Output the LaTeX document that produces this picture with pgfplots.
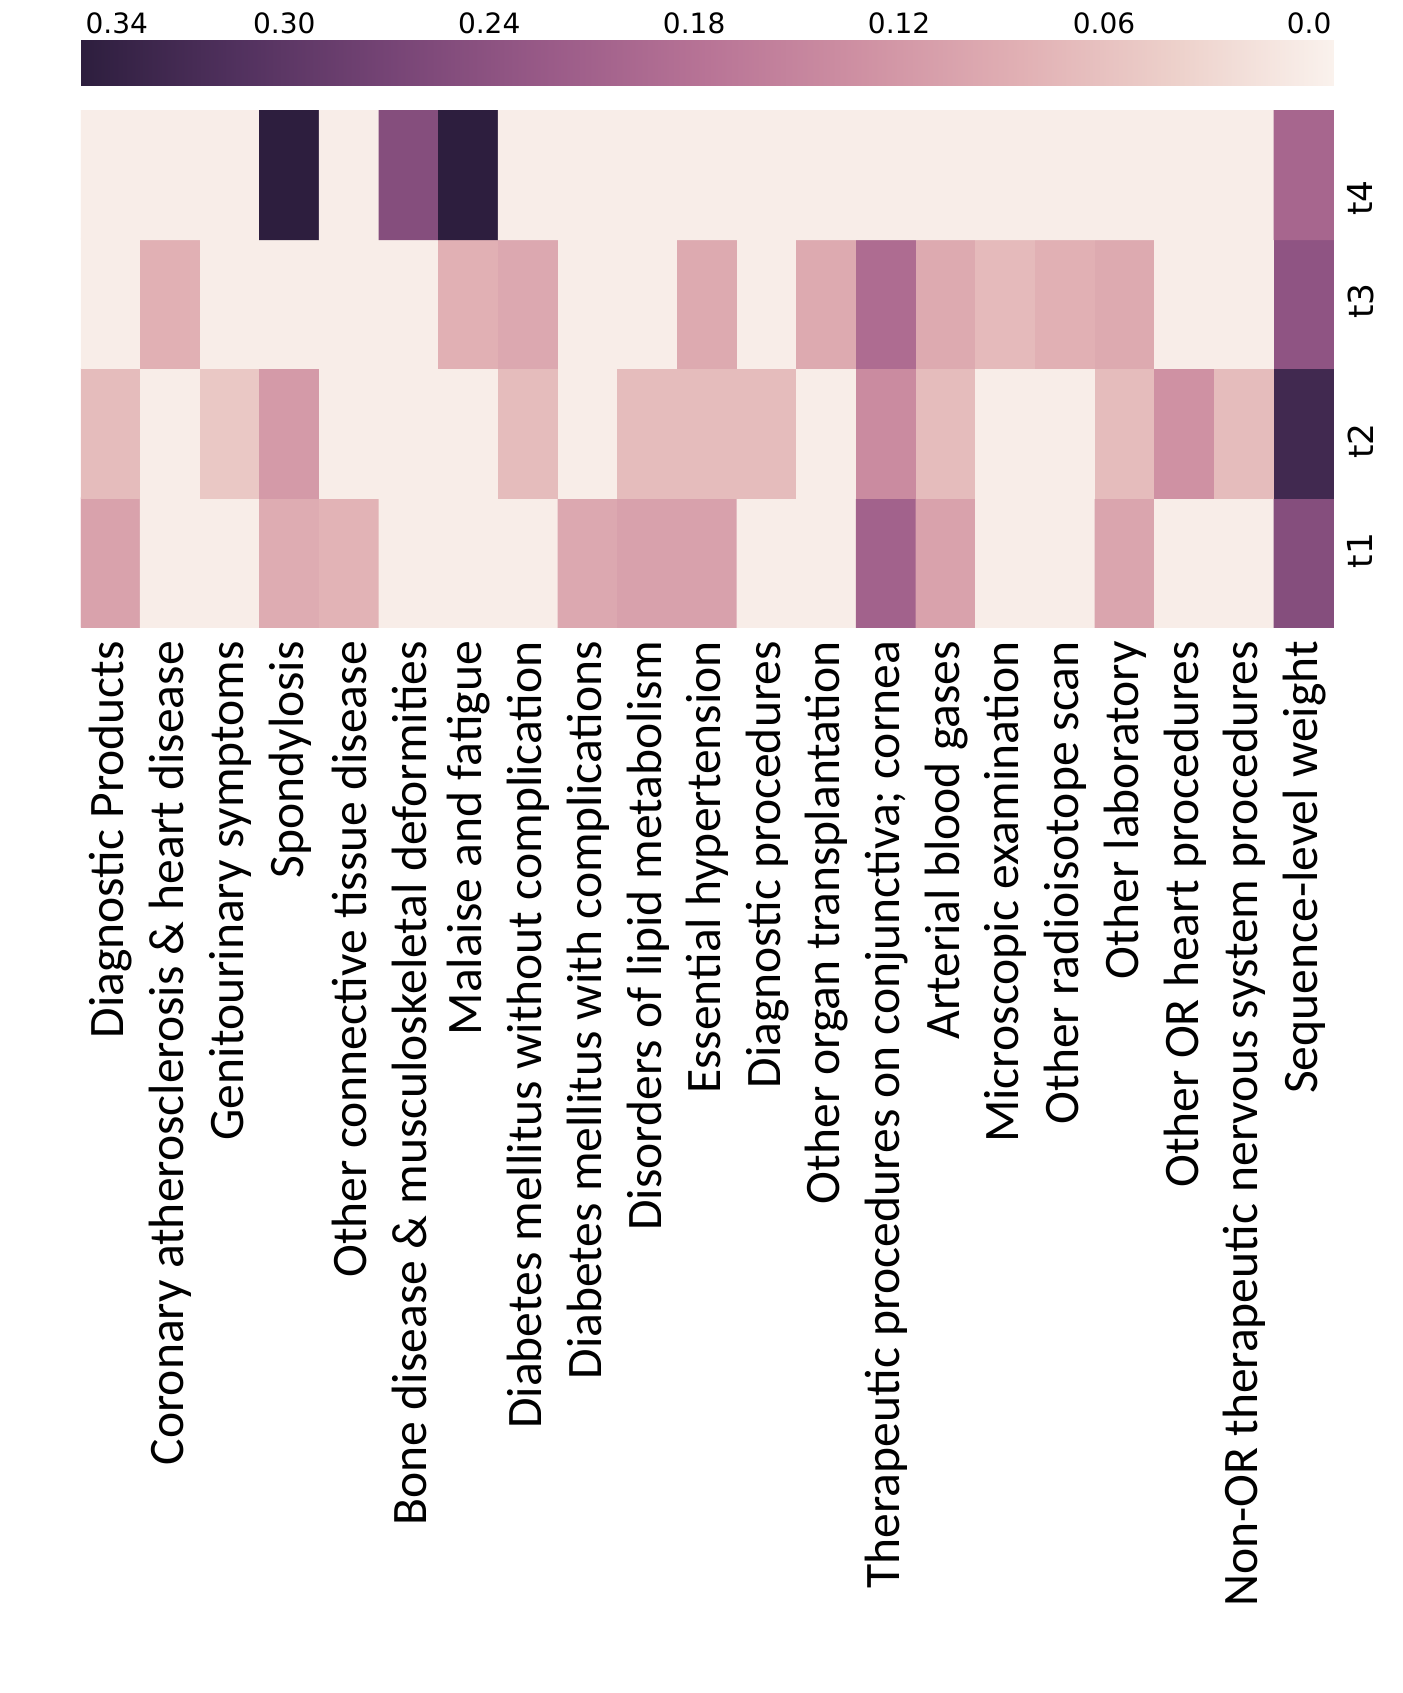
\documentclass[border=0pt]{standalone}
\usepackage{fontspec}
\setmainfont{Carlito}
\newfontfamily\dejavu{DejaVu Sans}
\usepackage{pgfplots}
\pgfplotsset{compat=1.18}

% seaborn-like cubehelix palette, light (low) to dark (high)
\pgfplotsset{
  colormap={chx}{rgb255(0cm)=(250,242,237); rgb255(1cm)=(237,209,203);
    rgb255(2cm)=(225,176,180); rgb255(3cm)=(207,145,163);
    rgb255(4cm)=(184,116,150); rgb255(5cm)=(154,91,136);
    rgb255(6cm)=(119,69,118); rgb255(7cm)=(81,49,94); rgb255(8cm)=(45,30,62)}
}

\begin{document}
\begin{tikzpicture}
\begin{axis}[
  name=main,
  scale only axis,
  width=313.25pt, height=129.25pt,
  xmin=-0.5, xmax=20.5, ymin=-0.5, ymax=3.5,
  xtick={0,...,20},
  xticklabels={{Diagnostic Products},{Coronary atherosclerosis \& heart disease},
    {Genitourinary symptoms},{Spondylosis},{Other connective tissue disease},
    {Bone disease \& musculoskeletal deformities},{Malaise and fatigue},
    {Diabetes mellitus without complication},{Diabetes mellitus with complications},
    {Disorders of lipid metabolism},{Essential hypertension},{Diagnostic procedures},
    {Other organ transplantation},{Therapeutic procedures on conjunctiva; cornea},
    {Arterial blood gases},{Microscopic examination},{Other radioisotope scan},
    {Other laboratory},{Other OR heart procedures},
    {Non-OR therapeutic nervous system procedures},{Sequence-level weight}},
  xticklabel style={rotate=90, anchor=east, font=\fontsize{12.4}{14}\selectfont},
  % row labels sit a little off the row centres in the original
  ytick={0.09,0.94,2.02,2.82},
  yticklabels={t1,t2,t3,t4},
  yticklabel pos=right,
  yticklabel style={rotate=90, anchor=north, inner sep=3.2pt,
    font=\dejavu\fontsize{8.6}{10}\selectfont},
  tick style={draw=none},
  axis line style={draw=none},
  colormap name=chx,
  point meta min=-0.0073, point meta max=0.3595,
  colorbar horizontal,
  colorbar shift/.style={yshift=6pt},
  colorbar style={
    at={(parent axis.north west)}, anchor=south west,
    scale only axis, width=313.25pt, height=11.25pt,
    x dir=reverse,
    xticklabel pos=upper,
    xtick={0,0.06,0.12,0.18,0.24,0.30,0.349},
    xticklabels={0.0,0.06,0.12,0.18,0.24,0.30,0.34},
    xticklabel style={font=\dejavu\fontsize{7}{8}\selectfont, inner sep=1.6pt},
    tick style={draw=none},
    axis line style={draw=none},
  },
]
\addplot[matrix plot*, mesh/cols=21, point meta=explicit]
  table[row sep=\\, meta=v] {
x y v\\
0 0 0.105\\ 1 0 0\\ 2 0 0\\ 3 0 0.091\\ 4 0 0.080\\ 5 0 0\\ 6 0 0\\
7 0 0\\ 8 0 0.096\\ 9 0 0.107\\ 10 0 0.107\\ 11 0 0\\ 12 0 0\\ 13 0 0.210\\
14 0 0.105\\ 15 0 0\\ 16 0 0\\ 17 0 0.101\\ 18 0 0\\ 19 0 0\\ 20 0 0.250\\
0 1 0.068\\ 1 1 0\\ 2 1 0.051\\ 3 1 0.117\\ 4 1 0\\ 5 1 0\\ 6 1 0\\
7 1 0.068\\ 8 1 0\\ 9 1 0.068\\ 10 1 0.068\\ 11 1 0.068\\ 12 1 0\\ 13 1 0.140\\
14 1 0.068\\ 15 1 0\\ 16 1 0\\ 17 1 0.068\\ 18 1 0.131\\ 19 1 0.068\\ 20 1 0.334\\
0 2 0\\ 1 2 0.084\\ 2 2 0\\ 3 2 0\\ 4 2 0\\ 5 2 0\\ 6 2 0.084\\
7 2 0.096\\ 8 2 0\\ 9 2 0\\ 10 2 0.094\\ 11 2 0\\ 12 2 0.094\\ 13 2 0.191\\
14 2 0.094\\ 15 2 0.071\\ 16 2 0.084\\ 17 2 0.094\\ 18 2 0\\ 19 2 0\\ 20 2 0.236\\
0 3 0\\ 1 3 0\\ 2 3 0\\ 3 3 0.360\\ 4 3 0\\ 5 3 0.250\\ 6 3 0.360\\
7 3 0\\ 8 3 0\\ 9 3 0\\ 10 3 0\\ 11 3 0\\ 12 3 0\\ 13 3 0\\
14 3 0\\ 15 3 0\\ 16 3 0\\ 17 3 0\\ 18 3 0\\ 19 3 0\\ 20 3 0.202\\
};
\end{axis}
% page margins as in the reference
\path ([xshift=-20.25pt, yshift=27.5pt]main.north west) coordinate (tl);
\path (tl) rectangle ([xshift=350.75pt, yshift=-423.25pt]tl);
\end{tikzpicture}
\end{document}
